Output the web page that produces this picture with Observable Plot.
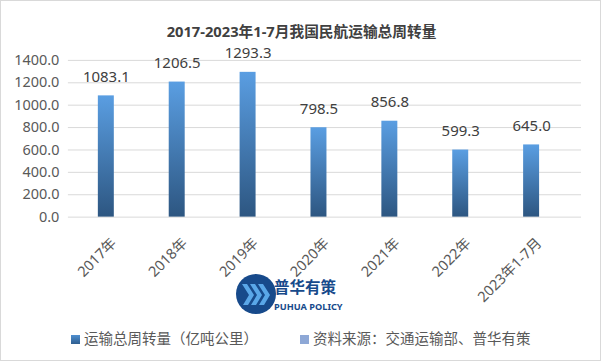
<!DOCTYPE html>
<html><head><meta charset="utf-8">
<script src="https://cdn.jsdelivr.net/npm/d3@7"></script>
<script src="https://cdn.jsdelivr.net/npm/@observablehq/plot@0.6"></script>
<style>
html,body{margin:0;padding:0;background:#fff;}
#wrap{position:relative;width:601px;height:361px;box-sizing:border-box;border:1px solid #d9d9d9;overflow:hidden;font-family:"Noto Sans","Noto Sans CJK SC",sans-serif;}
#chart{position:absolute;left:-1px;top:-1px;}
#title{position:absolute;left:0;width:601px;top:19px;text-align:center;font-weight:bold;font-size:14.7px;color:#404040;font-family:"Noto Sans","Noto Sans CJK SC",sans-serif;}
.leg{position:absolute;top:326px;font-size:14.5px;color:#595959;white-space:nowrap;font-family:"Noto Sans CJK SC",sans-serif;}
.sq{display:inline-block;width:9px;height:9px;margin-right:4px;vertical-align:0px;}
#logo{position:absolute;left:230px;top:270px;}
</style></head>
<body><div id="wrap"><div id="title">2017-2023年1-7月我国民航运输总周转量</div><div id="chart"></div>
<svg id="logo" width="115" height="48" viewBox="0 0 115 48">
 <circle cx="25" cy="23" r="20" fill="#174a8b"/>
 <g fill="#5aa7e8">
  <polygon points="11,13 16,13 23,24 17,34 12,34 18,24"/>
  <polygon points="19,13 24,13 31,24 25,34 20,34 26,24"/>
  <polygon points="27,13 32,13 39,24 33,34 28,34 34,24"/>
 </g>
 <text x="43" y="22" font-family="Noto Sans CJK SC" font-weight="bold" font-size="15.5" fill="#174a8b">普华有策</text>
 <text x="43" y="39" font-family="Noto Sans" font-weight="bold" font-size="9.2" fill="#174a8b">PUHUA POLICY</text>
</svg>
<div class="leg" style="left:70px"><span class="sq" style="background:linear-gradient(#4f8fd0,#2f5f90)"></span>运输总周转量（亿吨公里）</div>
<div class="leg" style="left:299px"><span class="sq" style="background:#8ea8d6"></span>资料来源：交通运输部、普华有策</div>
</div>
<script>
const categories = ["2017年","2018年","2019年","2020年","2021年","2022年","2023年1-7月"];
const values = [1083.1, 1206.5, 1293.3, 798.5, 856.8, 599.3, 645.0];
const yTicks = [0, 200, 400, 600, 800, 1000, 1200, 1400];
const data = categories.map((c, i) => ({cat: c, value: values[i]}));

const defs = () => {
  const d = d3.create("svg:defs");
  const g = d.append("linearGradient").attr("id", "barGrad").attr("x1", 0).attr("y1", 0).attr("x2", 0).attr("y2", 1);
  g.append("stop").attr("offset", "0%").attr("stop-color", "#5a9ee2");
  g.append("stop").attr("offset", "100%").attr("stop-color", "#2d5681");
  return d.node();
};

const chart = Plot.plot({
  width: 601, height: 361,
  marginTop: 60, marginBottom: 144, marginLeft: 68, marginRight: 19,
  style: {fontFamily: '"Noto Sans","Noto Sans CJK SC",sans-serif', fontSize: "14.5px", color: "#595959", background: "transparent"},
  x: {domain: categories, paddingInner: 0.77, paddingOuter: 0.459, align: 0.42, axis: null},
  y: {domain: [0, 1400], ticks: yTicks, tickFormat: d => d.toFixed(1), tickSize: 0, tickPadding: 9, label: null},
  marks: [
    defs,
    Plot.ruleY(yTicks, {stroke: "#d9d9d9", strokeWidth: 1}),
    Plot.barY(data, {x: "cat", y: "value", fill: "url(#barGrad)"}),
    Plot.text(data, {x: "cat", y: "value", text: d => d.value.toFixed(1), dy: -19, fontSize: 15, fill: "#404040"}),
    Plot.text(categories, {x: d => d, frameAnchor: "bottom", rotate: -45, textAnchor: "end", dx: 11, dy: 27, fontSize: 14.5, fill: "#595959"})
  ]
});
document.getElementById("chart").appendChild(chart);
</script>
</body></html>
